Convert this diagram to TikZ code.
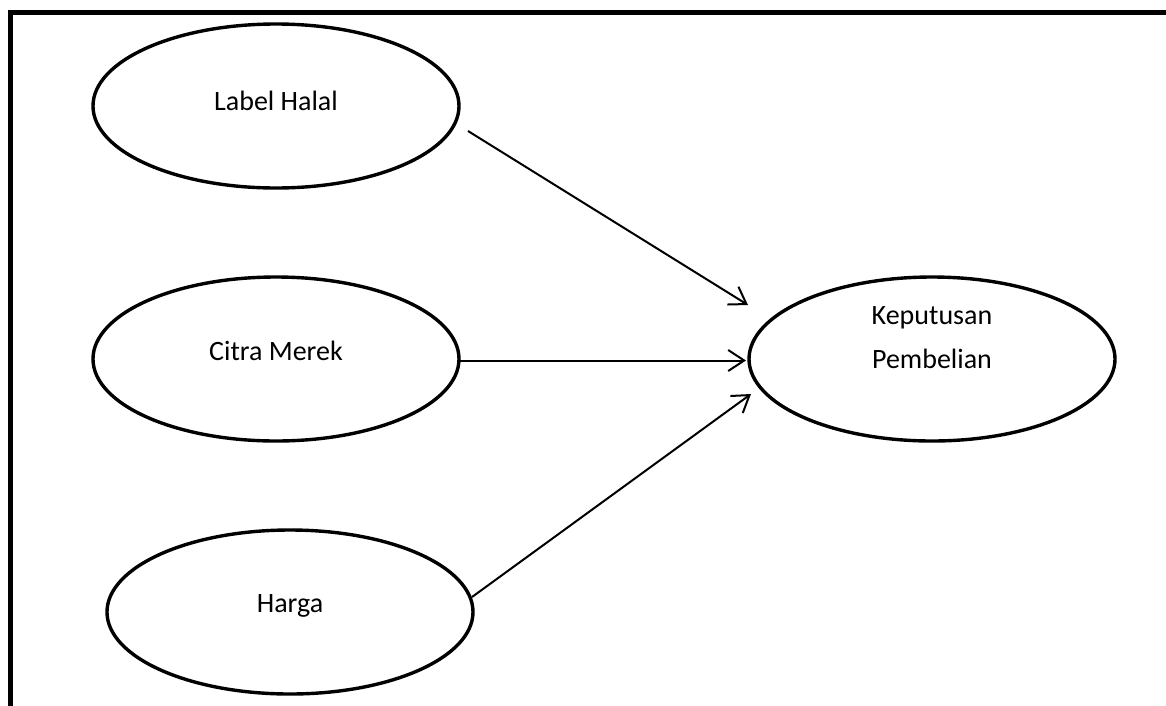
\documentclass[tikz,border=0pt]{standalone}
\usepackage{fontspec}
\setmainfont{Carlito}
\usetikzlibrary{shapes.geometric,arrows.meta}
\begin{document}
\begin{tikzpicture}[x=1pt,y=-1pt,
  var/.style={draw,ellipse,line width=3.4pt,minimum width=366pt,minimum height=164pt,inner sep=0pt},
  txt/.style={font=\fontsize{28}{44}\selectfont,inner sep=0pt,align=center},
  conn/.style={line width=2pt,-{Straight Barb[length=16pt,width=21pt,line width=2pt]}},
  frame/.style={line width=5pt,line join=miter}]
\useasboundingbox (0,0) rectangle (1166,705);
\fill[white] (0,0) rectangle (1166,705);
% frame
\draw[frame] (1170,12.5) -- (10.5,12.5) -- (10.5,710);
% variables
\node[var] (lh) at (276,106) {};
\node[var] (cm) at (276,359) {};
\node[var] (hg) at (290,612) {};
\node[var] (kp) at (932,359) {};
\node[txt] (tlh) at (276,101) {Label Halal};
\node[txt] (tcm) at (276,351) {Citra Merek};
\node[txt] (thg) at (290,606) {Harga};
\node[txt] (tkp) at (932,338) {Keputusan\\Pembelian};
% connector ends
\coordinate (s1) at (468,131);
\coordinate (e1) at (748,305);
\coordinate (s2) at (459,360.5);
\coordinate (e2) at (746,360.5);
\coordinate (s3) at (472,597);
\coordinate (e3) at (751,394);
\draw[conn] (s1) -- (e1);
\draw[conn] (s2) -- (e2);
\draw[conn] (s3) -- (e3);
\end{tikzpicture}
\end{document}
